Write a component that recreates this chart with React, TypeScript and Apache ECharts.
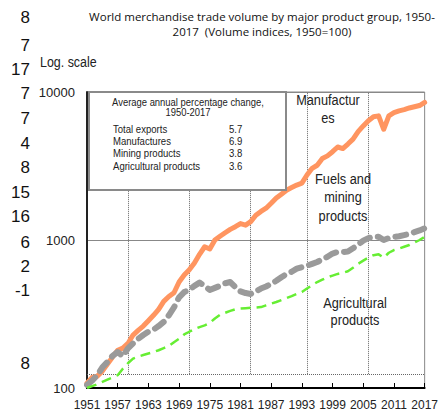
import React, { useEffect, useRef } from "react";
import * as echarts from "echarts";

const years: string[] = [];
for (let y = 1951; y <= 2017; y++) years.push(String(y));

const manufactures = [
  108, 118, 120, 130, 145, 162, 180, 186, 200, 228,
  245, 262, 285, 310, 340, 385, 415, 440, 520, 580,
  630, 700, 800, 900, 870, 1000, 1060, 1120, 1180, 1230,
  1290, 1260, 1330, 1470, 1560, 1640, 1770, 1920, 2040, 2170,
  2260, 2350, 2420, 2750, 3050, 3200, 3550, 3700, 3950, 4250,
  4150, 4450, 4800, 5400, 5900, 6400, 6800, 6900, 5600, 6900,
  7250, 7450, 7600, 7800, 7950, 8100, 8500,
];

const fuelsMining = [
  105, 112, 122, 138, 150, 165, 175, 164, 185, 200,
  215, 228, 240, 248, 262, 280, 310, 350, 410, 445,
  460, 490, 515, 490, 460, 475, 490, 510, 520, 480,
  450, 438, 432, 450, 470, 485, 505, 530, 560, 590,
  610, 640, 655, 670, 690, 710, 740, 770, 810, 830,
  830, 835, 880, 930, 990, 1030, 1050, 1050, 1000, 1030,
  1050, 1060, 1080, 1100, 1130, 1160, 1200,
];

const agricultural = [
  100, 103, 106, 110, 114, 118, 122, 135, 147, 158,
  163, 167, 171, 175, 180, 186, 192, 204, 215, 230,
  240, 250, 258, 265, 275, 295, 312, 322, 332, 340,
  344, 346, 348, 350, 352, 362, 372, 381, 393, 405,
  418, 432, 445, 470, 495, 520, 540, 560, 575, 590,
  600, 615, 650, 690, 725, 760, 790, 800, 760, 820,
  855, 875, 900, 925, 960, 1000, 1050,
];

const boxLabels = ["Total exports", "Manufactures", "Mining products", "Agricultural products"];
const boxValues = ["5.7", "6.9", "3.8", "3.6"];

const dottedYears = ["1959", "1971", "1983", "1994", "2006"];
const dottedFloor = 124;

const strayNumbers = ["8", "7", "17", "7", "7", "4", "8", "15", "16", "6", "2", "-1", "8"];
const strayY = [17, 45, 69, 93, 118, 143, 167, 192, 216, 242, 266, 290, 363];

const SANS = '"Liberation Sans", Arial, sans-serif';

function narrowText(x: number, y: number, text: string, size: number, sx: number, extra: any = {}) {
  return {
    type: "text",
    x,
    y,
    scaleX: sx,
    z: 11,
    style: { text, x: 0, y: 0, font: `${size}px ${SANS}`, fill: "#222", ...extra },
  };
}

export default function App() {
  const ref = useRef<HTMLDivElement>(null);
  useEffect(() => {
    if (!ref.current) return;
    const chart = echarts.init(ref.current, undefined, { renderer: "svg" });

    const markData: any[] = [
      [{ coord: [years[0], dottedFloor] }, { coord: [years[years.length - 1], dottedFloor] }],
      ...dottedYears.map((y) => [{ coord: [y, dottedFloor] }, { coord: [y, 10000] }]),
    ];

    const graphics: any[] = [
      {
        type: "text",
        style: {
          text: "World merchandise trade volume by major product group, 1950-\n2017  (Volume indices, 1950=100)",
          x: 262,
          y: 9,
          align: "center",
          font: '11.5px "Open Sans", sans-serif',
          fill: "#111",
          lineHeight: 15,
        },
      },
      narrowText(40, 62, "Log. scale", 15, 0.83, { verticalAlign: "middle" }),
      ...strayNumbers.map((t, i) => ({
        type: "text",
        style: { text: t, x: 30, y: strayY[i], align: "right", verticalAlign: "middle", font: `17px ${SANS}`, fill: "#111" },
      })),
      {
        type: "rect",
        shape: { x: 89, y: 92, width: 197, height: 98 },
        style: { fill: "#fff", stroke: "#8a8a8a", lineWidth: 2 },
        z: 10,
      },
      narrowText(188, 97, "Average annual percentage change,\n1950-2017", 10.5, 0.9, { align: "center", lineHeight: 10.5 }),
      ...boxLabels.map((t, i) => narrowText(113, 129 + i * 12.3, t, 11, 0.87, { verticalAlign: "middle" })),
      ...boxValues.map((t, i) => narrowText(229, 129 + i * 12.3, t, 11, 0.87, { verticalAlign: "middle" })),
      narrowText(328, 91, "Manufactur\nes", 15, 0.85, { align: "center", lineHeight: 18 }),
      narrowText(343, 169, "Fuels and\nmining\nproducts", 15, 0.85, { align: "center", lineHeight: 18.5 }),
      narrowText(355, 294, "Agricultural\nproducts", 15, 0.85, { align: "center", lineHeight: 17 }),
    ];

    chart.setOption({
      animation: false,
      backgroundColor: "#fff",
      grid: { left: 87, right: 11, top: 92, bottom: 28, show: true, borderColor: "#888", borderWidth: 1 },
      xAxis: {
        type: "category",
        data: years,
        boundaryGap: false,
        axisLine: { lineStyle: { color: "#000", width: 2 } },
        axisTick: { show: true, inside: true, length: 5, interval: 5, lineStyle: { color: "#000" } },
        axisLabel: {
          interval: 5,
          color: "#222",
          fontFamily: SANS,
          fontSize: 12,
          margin: 11,
          showMinLabel: true,
          showMaxLabel: true,
          hideOverlap: false,
        },
        splitLine: { show: false },
      },
      yAxis: {
        type: "log",
        logBase: 10,
        min: 100,
        max: 10000,
        axisLine: { show: true, lineStyle: { color: "#222", width: 2 } },
        axisTick: { show: false },
        axisLabel: { color: "#222", fontFamily: SANS, fontSize: 13, margin: 12, formatter: (v: number) => String(Math.round(v)) },
        splitLine: { show: true, lineStyle: { color: "#888", width: 1 } },
      },
      series: [
        {
          name: "Manufactures",
          type: "line",
          data: manufactures,
          showSymbol: false,
          lineStyle: { color: "#FF9560", width: 5, cap: "round", join: "round" },
          z: 3,
          markLine: {
            silent: true,
            symbol: "none",
            label: { show: false },
            lineStyle: { color: "#666", type: "dotted", width: 1 },
            data: markData,
            z: 1,
          },
        },
        {
          name: "Fuels and mining products",
          type: "line",
          data: fuelsMining,
          showSymbol: false,
          lineStyle: { color: "#9a9a9a", width: 6, type: [11, 8], cap: "round", join: "round" },
          z: 4,
        },
        {
          name: "Agricultural products",
          type: "line",
          data: agricultural,
          showSymbol: false,
          lineStyle: { color: "#66EE33", width: 2.5, type: [10, 6] },
          z: 5,
        },
      ],
      graphic: graphics,
    });
    return () => chart.dispose();
  }, []);
  return <div ref={ref} style={{ width: 441, height: 416, position: "absolute", left: 0, top: 0 }} />;
}
